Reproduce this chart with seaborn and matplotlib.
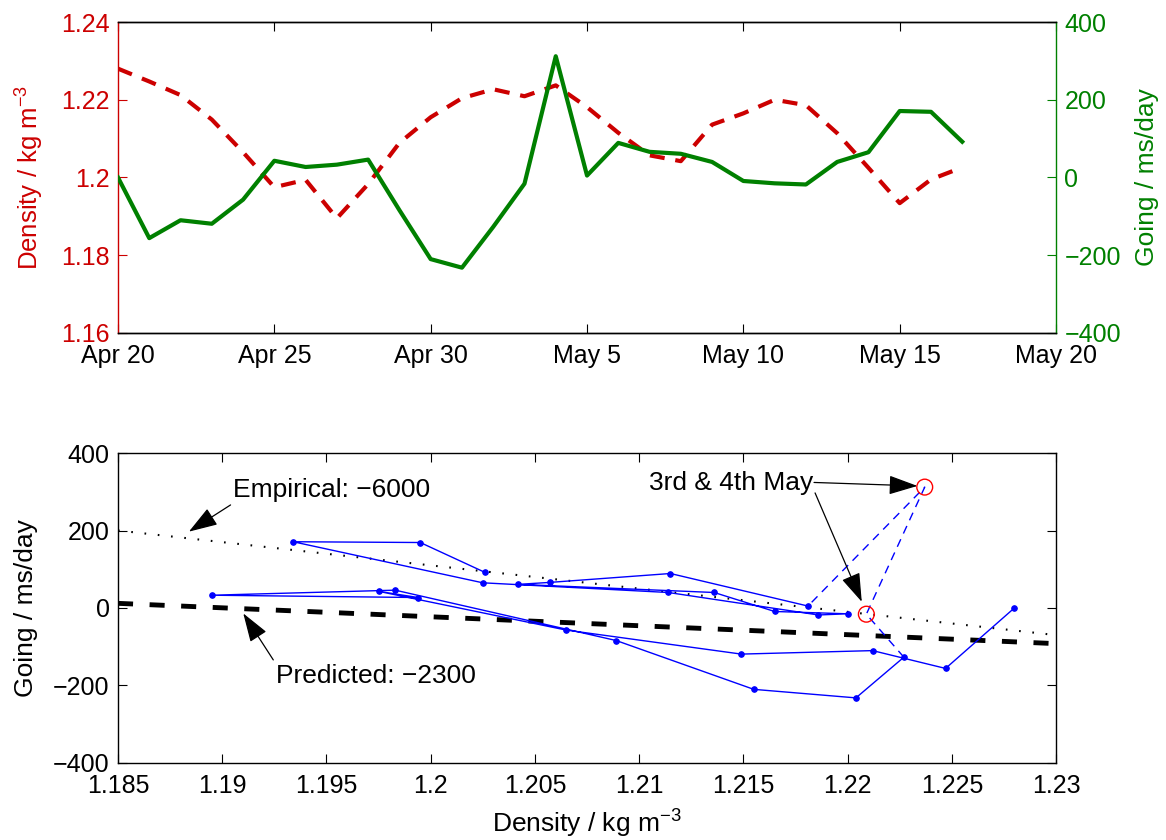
import matplotlib
matplotlib.use('Agg')
import numpy as np
import pandas as pd
import matplotlib.pyplot as plt
import seaborn as sns

plt.rcParams['font.family'] = ['Liberation Sans', 'DejaVu Sans']
plt.rcParams['mathtext.default'] = 'regular'
plt.rcParams['xtick.direction'] = 'in'
plt.rcParams['ytick.direction'] = 'in'
plt.rcParams['axes.linewidth'] = 1.0

RED = '#cc0000'
GREEN = '#008000'
FS_TICK = 18
FS_LABEL = 19

# ---- данные (ежедневные значения с 20 апреля) ----
start_date = '2011-04-20'
density = [1.2280, 1.2247, 1.2212, 1.2149, 1.2065, 1.1975, 1.1994, 1.1895,
           1.1983, 1.2089, 1.2155, 1.2204, 1.2227, 1.2209, 1.2237, 1.2181,
           1.2115, 1.2057, 1.2042, 1.2136, 1.2165, 1.2200, 1.2186, 1.2114,
           1.2025, 1.1934, 1.1995, 1.2026]
going = [0, -156, -110, -119, -57, 43, 27, 33,
         46, -84, -210, -232, -127, -16, 312, 5,
         89, 66, 61, 40, -9, -15, -18, 40,
         65, 171, 169, 92]

date_ticks = ['2011-04-20', '2011-04-25', '2011-04-30', '2011-05-05',
              '2011-05-10', '2011-05-15', '2011-05-20']
date_labels = ['Apr 20', 'Apr 25', 'Apr 30', 'May 5', 'May 10', 'May 15', 'May 20']
dens_ticks_top = [1.16, 1.18, 1.20, 1.22, 1.24]
dens_labels_top = ['1.16', '1.18', '1.2', '1.22', '1.24']
going_ticks = [-400, -200, 0, 200, 400]
going_labels = ['\u2212400', '\u2212200', '0', '200', '400']
dens_ticks_bot = [1.185, 1.19, 1.195, 1.20, 1.205, 1.21, 1.215, 1.22, 1.225, 1.23]
dens_labels_bot = ['1.185', '1.19', '1.195', '1.2', '1.205', '1.21', '1.215',
                   '1.22', '1.225', '1.23']

# линии наклона (эмпирическая и предсказанная), концы по краям оси
fit_density = [1.185, 1.23]
empirical_going = [200, -70]
predicted_going = [12, -92]

highlight_days = [13, 14]   # 3 и 4 мая

df = pd.DataFrame({'date': pd.date_range(start_date, periods=len(density), freq='D'),
                   'density': density, 'going': going})
fit_df = pd.DataFrame({'density': fit_density, 'emp': empirical_going,
                       'pred': predicted_going})

fig = plt.figure(figsize=(11.66, 8.4), dpi=100)

# ---- верхний график: временной ряд ----
ax1 = fig.add_axes([0.1012, 0.6036, 0.8045, 0.3702])
sns.lineplot(data=df, x='date', y='density', ax=ax1, color=RED, linewidth=3)
ax1.lines[-1].set_dashes((3.6, 2.6))
ax2 = ax1.twinx()
sns.lineplot(data=df, x='date', y='going', ax=ax2, color=GREEN, linewidth=3)

ax1.set_xlim(pd.Timestamp('2011-04-20'), pd.Timestamp('2011-05-20'))
ax1.set_xticks(pd.to_datetime(date_ticks))
ax1.set_xticklabels(date_labels)
ax1.set_ylim(1.16, 1.24)
ax1.set_yticks(dens_ticks_top)
ax1.set_yticklabels(dens_labels_top)
ax1.tick_params(axis='x', top=True, labelsize=FS_TICK, length=6.5, pad=8)
ax1.tick_params(axis='y', colors=RED, labelsize=FS_TICK, length=6.5, pad=6, right=False)
ax1.set_xlabel('')
ax1.set_ylabel('Density / kg m$^{-3}$', color=RED, fontsize=FS_LABEL - 0.5, labelpad=11)
ax1.spines['left'].set_color(RED)
ax1.spines['right'].set_visible(False)

ax2.set_ylim(-400, 400)
ax2.set_yticks(going_ticks)
ax2.set_yticklabels(going_labels)
ax2.tick_params(axis='y', colors=GREEN, labelsize=FS_TICK, length=6.5, pad=6)
ax2.set_ylabel('Going / ms/day', color=GREEN, fontsize=FS_LABEL, labelpad=10)
ax2.spines['left'].set_visible(False)
ax2.spines['right'].set_color(GREEN)

# ---- нижний график: going vs density ----
ax3 = fig.add_axes([0.1012, 0.0917, 0.8045, 0.3690])
sns.lineplot(data=fit_df, x='density', y='emp', ax=ax3, color='black', linewidth=1.5)
ax3.lines[-1].set_dashes((0.8, 5.6))
sns.lineplot(data=fit_df, x='density', y='pred', ax=ax3, color='black', linewidth=3.5)
ax3.lines[-1].set_dashes((3.1, 3.4))

path_kw = dict(x='density', y='going', ax=ax3, sort=False, estimator=None, color='blue')
sns.lineplot(data=df.iloc[:13], linewidth=1, marker='o', markersize=4,
             markeredgecolor='blue', **path_kw)
sns.lineplot(data=df.iloc[12:16], linewidth=1, **path_kw)
ax3.lines[-1].set_dashes((6, 4.5))
sns.lineplot(data=df.iloc[15:], linewidth=1, marker='o', markersize=4,
             markeredgecolor='blue', **path_kw)
sns.scatterplot(data=df.iloc[highlight_days], x='density', y='going', ax=ax3,
                s=130, facecolors='none', edgecolor='red', linewidth=1, zorder=5)

ax3.set_xlim(1.185, 1.23)
ax3.set_ylim(-400, 400)
ax3.set_xticks(dens_ticks_bot)
ax3.set_xticklabels(dens_labels_bot)
ax3.set_yticks(going_ticks)
ax3.set_yticklabels(going_labels)
ax3.tick_params(top=True, right=True, labelsize=FS_TICK, length=6.5)
ax3.tick_params(axis='x', pad=8)
ax3.tick_params(axis='y', pad=6)
ax3.set_xlabel('Density / kg m$^{-3}$', fontsize=FS_LABEL, labelpad=7)
ax3.set_ylabel('Going / ms/day', fontsize=FS_LABEL, labelpad=11)

# подписи со стрелками
arrow = dict(arrowstyle='-|>,head_length=1.8,head_width=0.6', color='black',
             lw=0.9, shrinkA=0, shrinkB=0, mutation_scale=10)
ax3.text(1.19051, 304, 'Empirical: \u22126000', fontsize=19, ha='left', va='center')
ax3.annotate('', xy=(1.1884, 197), xytext=(1.1904, 266), arrowprops=arrow)
ax3.text(1.19257, -175, 'Predicted: \u22122300', fontsize=19, ha='left', va='center')
ax3.annotate('', xy=(1.19101, -14), xytext=(1.19245, -134), arrowprops=arrow)
ax3.text(1.21047, 322, '3rd & 4th May', fontsize=19, ha='left', va='center')
ax3.annotate('', xy=(1.22335, 315), xytext=(1.21839, 324), arrowprops=arrow)
ax3.annotate('', xy=(1.22068, 16), xytext=(1.21844, 297), arrowprops=arrow)

plt.savefig('out.png', dpi=100)
plt.close()
